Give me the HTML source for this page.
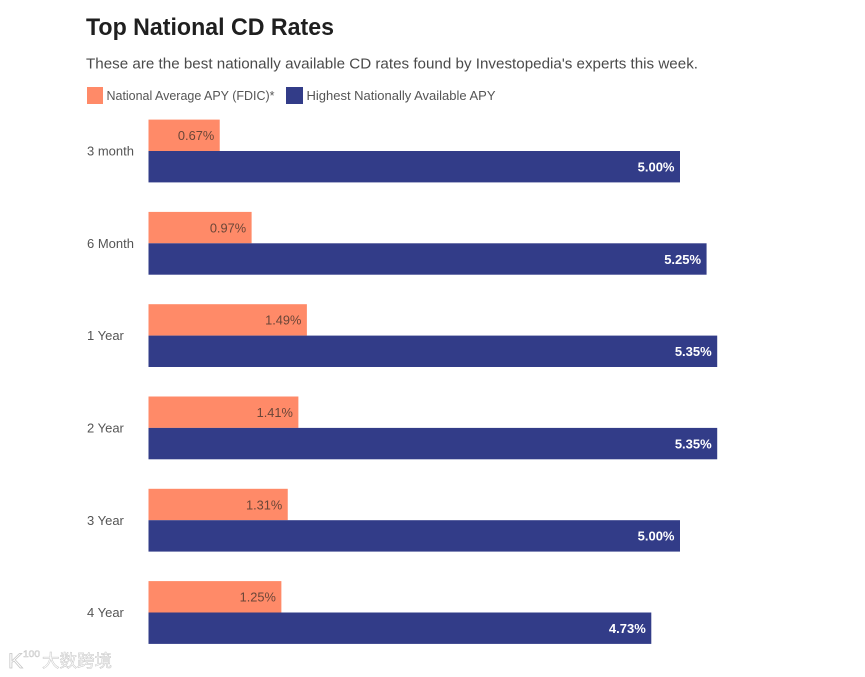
<!DOCTYPE html>
<html lang="en">
<head>
<meta charset="utf-8">
<title>Top National CD Rates</title>
<style>
html,body{margin:0;padding:0;background:#fff;width:865px;height:677px;overflow:hidden}
svg{display:block;font-family:"Liberation Sans","Noto Sans CJK SC",sans-serif;filter:blur(0.25px)}
</style>
</head>
<body>
<svg id="chart" width="865" height="677" viewBox="0 0 865 677" xmlns="http://www.w3.org/2000/svg">
  <text x="86" y="35" font-size="24" font-weight="700" fill="#1f1f1f" textLength="248" lengthAdjust="spacingAndGlyphs">Top National CD Rates</text>
  <text x="86" y="68.500" font-size="15" fill="#4a4a4a" textLength="612" lengthAdjust="spacingAndGlyphs">These are the best nationally available CD rates found by Investopedia's experts this week.</text>
  <rect x="87" y="87" width="16" height="17" fill="#ff8a68"/>
  <text x="106.500" y="100" font-size="13" fill="#555" textLength="168" lengthAdjust="spacingAndGlyphs">National Average APY (FDIC)*</text>
  <rect x="286" y="87" width="17" height="17" fill="#323c88"/>
  <text x="306.500" y="100" font-size="13" fill="#555" textLength="189" lengthAdjust="spacingAndGlyphs">Highest Nationally Available APY</text>
  <g id="bars"></g>
  <g opacity="0.9">
    <text x="8" y="668" font-size="21" fill="#fff" stroke="#bdbdbd" stroke-width="0.7" textLength="15" lengthAdjust="spacingAndGlyphs">K</text>
    <text x="23" y="657" font-size="9" fill="#fff" stroke="#c4c4c4" stroke-width="0.5" textLength="17" lengthAdjust="spacingAndGlyphs">100</text>
    <text x="42" y="667" font-size="17.500" fill="#fff" stroke="#c0c0c0" stroke-width="0.5">大数跨境</text>
  </g>
</svg>
<script>
var categories = ["3 month", "6 Month", "1 Year", "2 Year", "3 Year", "4 Year"];
var nationalAverage = [0.67, 0.97, 1.49, 1.41, 1.31, 1.25];
var highestAvailable = [5.00, 5.25, 5.35, 5.35, 5.00, 4.73];

var SVG_NS = "http://www.w3.org/2000/svg";
var barsGroup = document.getElementById("bars");

function xScale(value) {
  return 106.3 * value;
}
function rowTop(index) {
  return 119.6 + index * 92.3;
}
function makeRect(x, y, w, h, fill) {
  var el = document.createElementNS(SVG_NS, "rect");
  el.setAttribute("x", x);
  el.setAttribute("y", y);
  el.setAttribute("width", w);
  el.setAttribute("height", h);
  el.setAttribute("fill", fill);
  return el;
}
function makeText(x, y, str, anchor, size, fill, weight) {
  var el = document.createElementNS(SVG_NS, "text");
  el.setAttribute("x", x);
  el.setAttribute("y", y);
  el.setAttribute("text-anchor", anchor);
  el.setAttribute("font-size", size);
  el.setAttribute("fill", fill);
  el.setAttribute("font-weight", weight);
  el.textContent = str;
  return el;
}

categories.forEach(function (category, i) {
  var top = rowTop(i);
  var baseX = 148.5;
  var barH = 31.4;

  var label = makeText(87, top + 36, category, "start", 13, "#555", "400");
  
  
  barsGroup.appendChild(label);

  var avgWidth = xScale(nationalAverage[i]);
  var avgBar = makeRect(baseX, top, avgWidth, barH, "#ff8a68");
  
  
  barsGroup.appendChild(avgBar);

  var avgValue = makeText(baseX + avgWidth - 5.5, top + 20.5, nationalAverage[i].toFixed(2) + "%", "end", 12.8, "#6a4638", "400");
  
  
  barsGroup.appendChild(avgValue);

  var highWidth = xScale(highestAvailable[i]);
  var highBar = makeRect(baseX, top + barH, highWidth, barH, "#323c88");
  
  
  barsGroup.appendChild(highBar);

  var highValue = makeText(baseX + highWidth - 5.5, top + barH + 20.5, highestAvailable[i].toFixed(2) + "%", "end", 13, "#ffffff", "700");
  
  
  barsGroup.appendChild(highValue);
});
</script>
</body>
</html>
